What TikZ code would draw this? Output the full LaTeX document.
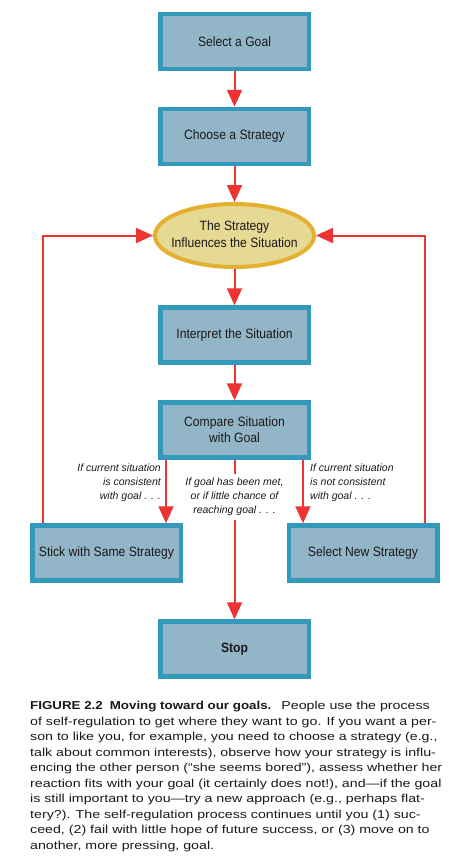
\documentclass[tikz,border=0pt]{standalone}
\usepackage{fontspec}
\setmainfont{Liberation Sans}
\newfontfamily\boxfont[FakeStretch=0.9]{Liberation Sans}
\newfontfamily\capfont[FakeStretch=1.235]{Liberation Sans}
\newfontfamily\capbf[FakeStretch=1.16]{Liberation Sans}
\usetikzlibrary{arrows.meta,shapes.geometric,calc}
\definecolor{tealc}{RGB}{51,153,187}
\definecolor{boxc}{RGB}{147,181,200}
\definecolor{ellc}{RGB}{230,217,147}
\definecolor{goldc}{RGB}{227,177,47}
\definecolor{redc}{RGB}{238,51,51}
\definecolor{txtc}{RGB}{25,25,25}
\tikzset{
  stepbox/.style={rectangle, draw=tealc, line width=4.5pt, fill=boxc,
    minimum width=148.5pt, minimum height=55pt, inner sep=0pt, align=center,
    text=txtc, font=\boxfont\fontsize{13.5}{16}\selectfont},
  ovalbox/.style={ellipse, draw=goldc, line width=4pt, fill=ellc,
    minimum width=159pt, minimum height=63pt, inner xsep=-12pt, inner ysep=0pt, align=center,
    text=txtc, font=\boxfont\fontsize{13.5}{15.5}\selectfont},
  arr/.style={draw=redc, line width=2pt, -{Triangle[length=17pt,width=15pt]}},
  plain/.style={draw=redc, line width=2pt},
  condlab/.style={inner sep=0pt, text=txtc, font=\fontsize{10.5}{14}\selectfont\itshape},
}
\begin{document}
\begin{tikzpicture}[x=1pt,y=-1pt]
\useasboundingbox (0,0) rectangle (448,862);
\node[stepbox] (goal) at (234.5,41.5) {Select a Goal};
\node[stepbox] (choose) at (234.5,136.5) {Choose a Strategy};
\node[ovalbox] (infl) at (234.5,235.5) {\raisebox{3pt}{\shortstack{The Strategy\\[1pt]Influences the Situation}}};
\node[stepbox] (interp) at (234.5,335) {Interpret the Situation};
\node[stepbox] (cmp) at (234.5,430) {Compare Situation\\with Goal};
\node[stepbox] (stick) at (106.5,553) {Stick with Same Strategy};
\node[stepbox] (selnew) at (363,553) {Select New Strategy};
\node[stepbox] (stop) at (234.5,649) {\bfseries Stop};

\coordinate (lx) at (43,0);
\coordinate (rx) at (425,0);
\coordinate (lx2) at (166,0);
\coordinate (rx2) at (303,0);

\node[condlab, anchor=north east, align=right] (lab1) at (161,464)
  {If current situation\\is consistent\\with goal . . .};
\node[condlab, anchor=north west, align=left] (lab3) at (310,464)
  {If current situation\\is not consistent\\with goal . . .};
\node[condlab, align=center, inner ysep=4pt] (lab2) at (234.5,497)
  {If goal has been met,\\or if little chance of\\reaching goal . . .};

\draw[arr] (goal) -- (choose);
\draw[arr] (choose) -- (infl);
\draw[arr] (infl) -- (interp);
\draw[arr] (interp) -- (cmp);
\draw[arr] (cmp.south -| lx2) -- (stick.north -| lx2);
\draw[arr] (cmp.south -| rx2) -- (selnew.north -| rx2);
\draw[plain] (cmp.south) -- (lab2.north);
\draw[arr] (lab2.south) -- (stop.north);
\draw[arr] (stick.north -| lx) |- (infl.west);
\draw[arr] (selnew.north -| rx) |- (infl.east);

\node[anchor=north west, inner sep=0pt, align=left, text=txtc,
  font=\capfont\fontsize{11.5}{15.5}\selectfont] (cap) at (30,701)
  {{\capbf\bfseries FIGURE 2.2\hspace{7pt}Moving toward our goals.}\hspace{10pt}People use the process\\
   of self-regulation to get where they want to go. If you want a per-\\
   son to like you, for example, you need to choose a strategy (e.g.,\\
   talk about common interests), observe how your strategy is influ-\\
   encing the other person (“she seems bored”), assess whether her\\
   reaction fits with your goal (it certainly does not!), and—if the goal\\
   is still important to you—try a new approach (e.g., perhaps flat-\\
   tery?). The self-regulation process continues until you (1) suc-\\
   ceed, (2) fail with little hope of future success, or (3) move on to\\
   another, more pressing, goal.};
\end{tikzpicture}
\end{document}
